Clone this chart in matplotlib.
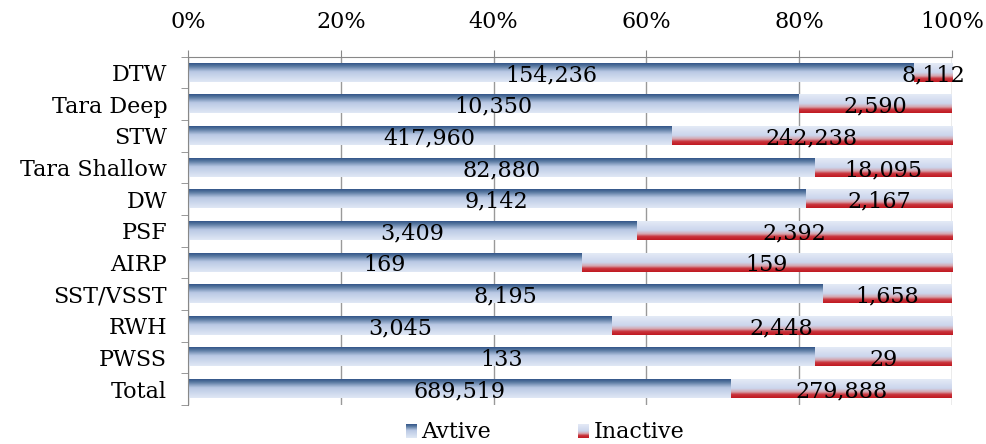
import numpy as np
import matplotlib.pyplot as plt
from matplotlib.colors import LinearSegmentedColormap
from matplotlib.ticker import FixedLocator, PercentFormatter

categories = ['DTW', 'Tara Deep', 'STW', 'Tara Shallow', 'DW', 'PSF',
              'AIRP', 'SST/VSST', 'RWH', 'PWSS', 'Total']
active = [154236, 10350, 417960, 82880, 9142, 3409, 169, 8195, 3045, 133, 689519]
inactive = [8112, 2590, 242238, 18095, 2167, 2392, 159, 1658, 2448, 29, 279888]

plt.rcParams['font.family'] = ['DejaVu Serif']

# vertical gradients, top of bar -> bottom of bar
blue_cmap = LinearSegmentedColormap.from_list(
    'blue', [(0, '#34568a'), (0.15, '#56779f'), (0.45, '#b9c8e4'), (1, '#e0e8f5')])
red_cmap = LinearSegmentedColormap.from_list(
    'red', [(0, '#e4eaf6'), (0.5, '#cbd5ec'), (0.68, '#d6a4ad'),
            (0.82, '#c9333b'), (1, '#c01a22')])

fig = plt.figure(figsize=(9.87, 4.44), dpi=100)
ax = fig.add_axes([0.1905, 0.088, 0.774, 0.784])

grad = np.linspace(0, 1, 64).reshape(-1, 1)
h = 0.57
n = len(categories)
for i in range(n):
    tot = active[i] + inactive[i]
    a = active[i] / tot * 100
    ax.imshow(grad, cmap=blue_cmap, aspect='auto', extent=[0, a, i + h / 2, i - h / 2],
              interpolation='bilinear', zorder=2)
    ax.imshow(grad, cmap=red_cmap, aspect='auto', extent=[a, 100, i + h / 2, i - h / 2],
              interpolation='bilinear', zorder=2)
    ax.text(a / 2, i + 0.08, f'{active[i]:,}', ha='center', va='center', fontsize=16, zorder=3)
    ax.text((a + 100) / 2, i + 0.08, f'{inactive[i]:,}', ha='center', va='center',
            fontsize=16, zorder=3)

ax.set_xlim(0, 100)
ax.set_ylim(n - 0.5, -0.5)
ax.xaxis.tick_top()
ax.set_xticks(np.arange(0, 101, 20))
ax.xaxis.set_major_formatter(PercentFormatter(decimals=0))
ax.set_yticks(range(n))
ax.set_yticklabels(categories)
ax.yaxis.set_minor_locator(FixedLocator(np.arange(-0.5, n, 1)))
ax.tick_params(axis='y', which='major', length=0, labelsize=16, pad=15)
ax.tick_params(axis='y', which='minor', length=5, color='#888888')
ax.tick_params(axis='x', length=5, color='#888888', labelsize=16, pad=12)
ax.grid(axis='x', color='#999999', linewidth=1, zorder=0)
ax.set_axisbelow(True)
for side in ['right', 'bottom']:
    ax.spines[side].set_visible(False)
for side in ['top', 'left']:
    ax.spines[side].set_color('#888888')

# legend with gradient swatches
for x0, cmap, label in [(0.411, blue_cmap, 'Avtive'), (0.586, red_cmap, 'Inactive')]:
    sw = fig.add_axes([x0, 0.014, 0.011, 0.03])
    sw.imshow(grad, cmap=cmap, aspect='auto', interpolation='bilinear')
    sw.axis('off')
    fig.text(x0 + 0.016, 0.003, label, fontsize=16, va='bottom', ha='left')

fig.savefig('out.png', dpi=100)
